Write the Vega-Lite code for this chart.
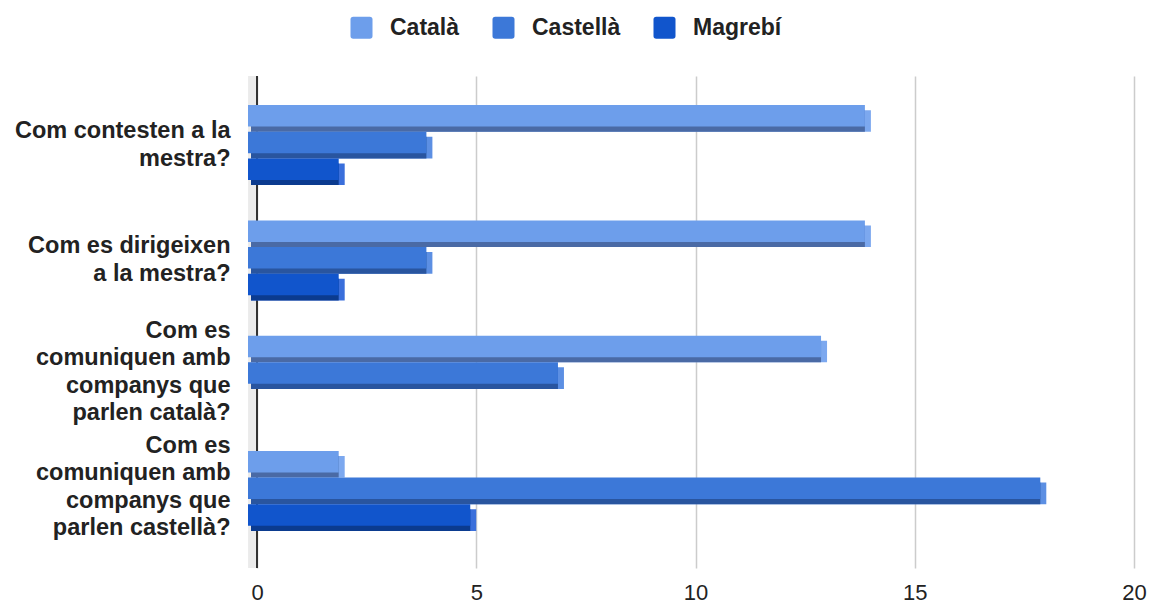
{
  "$schema": "https://vega.github.io/schema/vega-lite/v6.json",
  "width": 877,
  "height": 492,
  "autosize": {"type": "none"},
  "padding": {"left": 257, "top": 76, "right": 22, "bottom": 37},
  "background": "#ffffff",
  "config": {
    "view": {"stroke": null},
    "font": "Liberation Sans"
  },
  "data": {
    "values": [
      {"question": "Com contesten a la\nmestra?", "llengua": "Català", "value": 14},
      {"question": "Com contesten a la\nmestra?", "llengua": "Castellà", "value": 4},
      {"question": "Com contesten a la\nmestra?", "llengua": "Magrebí", "value": 2},
      {"question": "Com es dirigeixen\na la mestra?", "llengua": "Català", "value": 14},
      {"question": "Com es dirigeixen\na la mestra?", "llengua": "Castellà", "value": 4},
      {"question": "Com es dirigeixen\na la mestra?", "llengua": "Magrebí", "value": 2},
      {"question": "Com es\ncomuniquen amb\ncompanys que\nparlen català?", "llengua": "Català", "value": 13},
      {"question": "Com es\ncomuniquen amb\ncompanys que\nparlen català?", "llengua": "Castellà", "value": 7},
      {"question": "Com es\ncomuniquen amb\ncompanys que\nparlen català?", "llengua": "Magrebí", "value": 0},
      {"question": "Com es\ncomuniquen amb\ncompanys que\nparlen castellà?", "llengua": "Català", "value": 2},
      {"question": "Com es\ncomuniquen amb\ncompanys que\nparlen castellà?", "llengua": "Castellà", "value": 18},
      {"question": "Com es\ncomuniquen amb\ncompanys que\nparlen castellà?", "llengua": "Magrebí", "value": 5}
    ]
  },
  "encoding": {
    "y": {
      "field": "question",
      "type": "nominal",
      "sort": null,
      "scale": {"paddingInner": 0.306, "paddingOuter": 0.287, "align": 0.44},
      "axis": {
        "title": null,
        "ticks": false,
        "domain": false,
        "grid": false,
        "labelExpr": "split(datum.label, '\\n')",
        "labelFont": "Liberation Sans",
        "labelFontSize": 23.5,
        "labelFontWeight": "bold",
        "labelColor": "#222222",
        "labelPadding": 27,
        "labelLineHeight": 27.5,
        "labelLimit": 300,
        "labelOffset": {
          "condition": {"test": "indexof(datum.value, 'comuniquen') >= 0", "value": -45},
          "value": -14
        }
      }
    }
  },
  "layer": [
    {
      "mark": {"type": "rule", "color": "#ebebeb", "strokeWidth": 8, "xOffset": -4.5},
      "encoding": {
        "x": {
          "datum": 0,
          "type": "quantitative",
          "scale": {"domain": [0, 20], "nice": false},
          "axis": {
            "title": null,
            "values": [0, 5, 10, 15, 20],
            "grid": true,
            "gridColor": "#cccccc",
            "gridWidth": 1.5,
            "ticks": false,
            "domain": false,
            "labelFlush": false,
            "labelFont": "Liberation Sans",
            "labelFontSize": 22,
            "labelColor": "#222222",
            "labelPadding": 14
          }
        },
        "y": null
      }
    },
    {
      "mark": {"type": "rule", "color": "#333333", "strokeWidth": 1.5},
      "encoding": {"x": {"datum": 0, "type": "quantitative"}, "y": null}
    },
    {
      "transform": [{"filter": "datum.value > 0"}],
      "mark": {"type": "bar", "xOffset": 0, "x2Offset": -6},
      "encoding": {
        "x": {"field": "value", "type": "quantitative", "stack": null},
        "x2": {"datum": 0},
        "yOffset": {
          "field": "llengua",
          "type": "nominal",
          "sort": ["Català", "Castellà", "Magrebí"],
          "scale": {"paddingInner": 0.1875, "paddingOuter": 0.094, "align": 1}
        },
        "color": {
          "field": "llengua",
          "type": "nominal",
          "scale": {"domain": ["Català", "Castellà", "Magrebí"], "range": ["#7ca8ef", "#5c8fe3", "#3a6fdb"]},
          "legend": null
        }
      }
    },
    {
      "transform": [{"filter": "datum.value > 0"}],
      "mark": {"type": "bar", "xOffset": -6, "x2Offset": -6},
      "encoding": {
        "x": {"field": "value", "type": "quantitative", "stack": null},
        "x2": {"datum": 0},
        "yOffset": {
          "field": "llengua",
          "type": "nominal",
          "sort": ["Català", "Castellà", "Magrebí"],
          "scale": {"paddingInner": 0.1875, "paddingOuter": 0.094, "align": 1}
        },
        "color": {
          "field": "llengua",
          "type": "nominal",
          "scale": {"domain": ["Català", "Castellà", "Magrebí"], "range": ["#4a6aa5", "#29559f", "#0b3b8f"]},
          "legend": null
        }
      }
    },
    {
      "transform": [{"filter": "datum.value > 0"}],
      "mark": {"type": "bar", "xOffset": -6, "x2Offset": -9},
      "encoding": {
        "x": {"field": "value", "type": "quantitative", "stack": null},
        "x2": {"datum": 0},
        "yOffset": {
          "field": "llengua",
          "type": "nominal",
          "sort": ["Català", "Castellà", "Magrebí"],
          "scale": {"paddingInner": 0.194, "paddingOuter": 0.097, "align": 0}
        },
        "color": {
          "field": "llengua",
          "type": "nominal",
          "sort": ["Català", "Castellà", "Magrebí"],
          "scale": {"domain": ["Català", "Castellà", "Magrebí"], "range": ["#6d9eeb", "#3c78d8", "#1155cc"]},
          "legend": {
            "title": null,
            "orient": "none",
            "legendX": 93,
            "legendY": -60,
            "direction": "horizontal",
            "symbolType": "M-1,-0.75Q-1,-1,-0.75,-1L0.75,-1Q1,-1,1,-0.75L1,0.75Q1,1,0.75,1L-0.75,1Q-1,1,-1,0.75Z",
            "symbolSize": 484,
            "symbolStrokeWidth": 0,
            "symbolOpacity": 1,
            "labelFont": "Liberation Sans",
            "labelFontSize": 23,
            "labelFontWeight": "bold",
            "labelColor": "#222222",
            "labelOffset": 17,
            "columnPadding": 32,
            "padding": 0
          }
        }
      }
    }
  ],
  "resolve": {"scale": {"color": "independent", "yOffset": "independent"}}
}
